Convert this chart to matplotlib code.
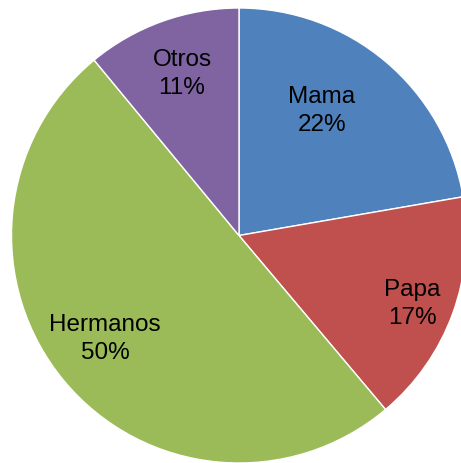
import numpy as np
import matplotlib.pyplot as plt

labels = ['Mama', 'Papa', 'Hermanos', 'Otros']
shares = [22.3, 16.6, 50.2, 11.0]
colors = ['#4F81BD', '#C0504D', '#9BBB59', '#8064A2']

# label centres in pixels (from top-left), converted to data units below
label_px = [(322, 111), (412, 304), (105, 339), (182, 74)]

W, H = 461, 464
cx, cy, R = 239, 236.5, 227.5

fig = plt.figure(figsize=(W / 100, H / 100), dpi=100)
ax = fig.add_axes([0, 0, 1, 1])
ax.pie(shares, colors=colors, startangle=90, counterclock=False, radius=1,
       wedgeprops=dict(edgecolor='white', linewidth=1))

total = sum(shares)
for lab, v, (px, py) in zip(labels, shares, label_px):
    x = (px - cx) / R
    y = (cy - py) / R
    ax.text(x, y, f'{lab}\n{round(100 * v / total)}%', ha='center', va='center',
            fontsize=17.5, family='Liberation Sans', linespacing=1.3, color='black')

ax.set_xlim(-cx / R, (W - cx) / R)
ax.set_ylim(-(H - cy) / R, cy / R)
ax.axis('off')

fig.savefig('out.png', dpi=100)
